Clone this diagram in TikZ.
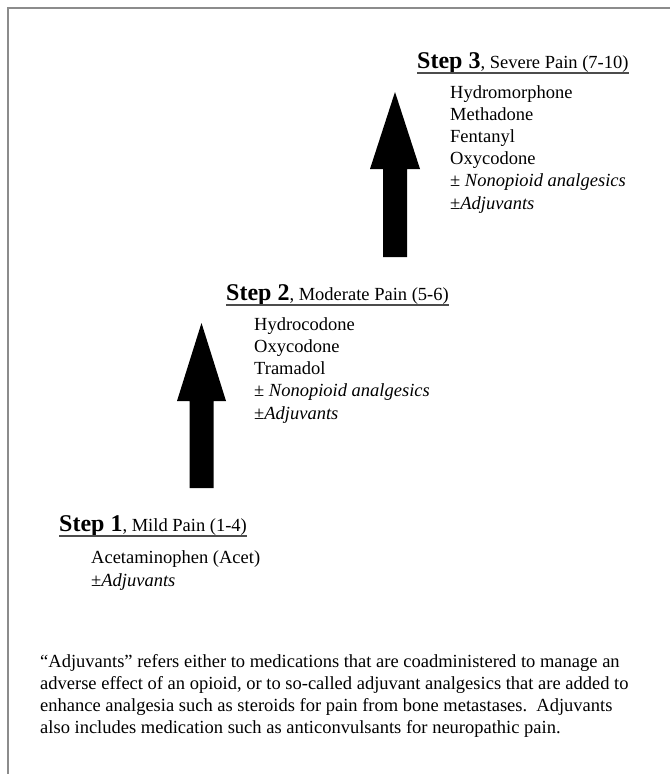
\documentclass[tikz,border=0pt]{standalone}
\usepackage{fontspec}
\setmainfont{Liberation Serif}
\tikzset{
  head/.style={anchor=base west,inner sep=0pt,font=\fontsize{18.5}{22}\selectfont},
  druglist/.style={anchor=base west,inner sep=0pt,align=left,font=\fontsize{18.5}{22.2}\selectfont},
  note/.style={anchor=base west,inner sep=0pt,align=left,font=\fontsize{18.5}{21.8}\selectfont},
  underrule/.style={line width=1.3pt,black!70},
  bigarrow/.style={fill=black},
  frameline/.style={line width=1.2pt,black!45}
}
\newcommand{\stepword}[1]{{\fontsize{24}{26}\selectfont\bfseries Step #1}}
\begin{document}
\begin{tikzpicture}[x=1pt,y=-1pt]
  \useasboundingbox (0,0) rectangle (670,774);
  \draw[frameline] (8,774) |- (670,8);
  % step 3
  \node[head] (step3) at (417,68) {\stepword{3}, Severe Pain (7-10)};
  \draw[underrule] ([yshift=-5pt]step3.base west) -- ([yshift=-5pt]step3.base east);
  \node[druglist] (list3) at (450,209) {Hydromorphone\\Methadone\\Fentanyl\\Oxycodone\\
    ± \textit{Nonopioid analgesics}\\±\textit{Adjuvants}};
  \begin{scope}[shift={(395,92)}]
    \fill[bigarrow] (0,0) -- (25,77) -- (12,77) -- (12,165) -- (-12,165) -- (-12,77) -- (-25,77) -- cycle;
  \end{scope}
  % step 2
  \node[head] (step2) at (226,300) {\stepword{2}, Moderate Pain (5-6)};
  \draw[underrule] ([yshift=-5pt]step2.base west) -- ([yshift=-5pt]step2.base east);
  \node[druglist] (list2) at (254,419) {Hydrocodone\\Oxycodone\\Tramadol\\
    ± \textit{Nonopioid analgesics}\\±\textit{Adjuvants}};
  \begin{scope}[shift={(201.5,323)}]
    \fill[bigarrow] (0,0) -- (24.5,78) -- (12,78) -- (12,165) -- (-12,165) -- (-12,78) -- (-24.5,78) -- cycle;
  \end{scope}
  % step 1
  \node[head] (step1) at (59,531) {\stepword{1}, Mild Pain (1-4)};
  \draw[underrule] ([yshift=-5pt]step1.base west) -- ([yshift=-5pt]step1.base east);
  \node[druglist] (list1) at (91,586) {Acetaminophen (Acet)\\±\textit{Adjuvants}};
  % footnote
  \node[note] (footnote) at (40,733) {“Adjuvants” refers either to medications that are coadministered to manage an\\
    adverse effect of an opioid, or to so-called adjuvant analgesics that are added to\\
    enhance analgesia such as steroids for pain from bone metastases.\ \ Adjuvants\\
    also includes medication such as anticonvulsants for neuropathic pain.};
\end{tikzpicture}
\end{document}
